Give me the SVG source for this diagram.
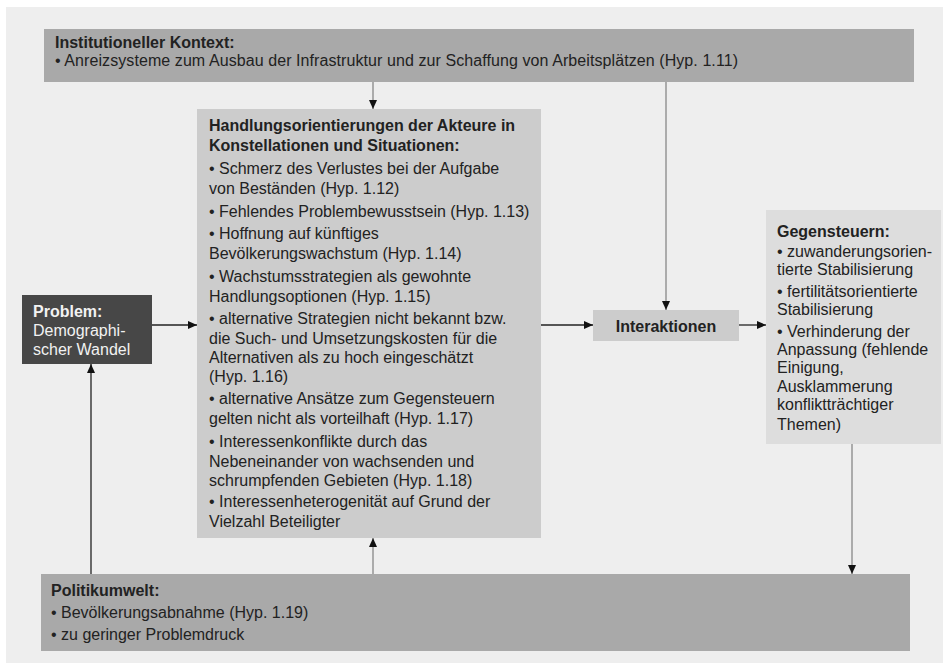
<svg xmlns="http://www.w3.org/2000/svg" width="943" height="665" viewBox="0 0 943 665">
<style>
text{font-family:"Liberation Sans",Arial,sans-serif;font-size:16px;fill:#222}
.b{font-weight:bold}
.w{fill:#f2f2f2}
.ln{stroke:#222;stroke-width:1.3;fill:none}
.lg{stroke:#9a9a9a;stroke-width:1.6;fill:none}
</style>
<defs>
<marker id="ah" markerUnits="userSpaceOnUse" markerWidth="10" markerHeight="10" viewBox="0 0 10 10" refX="9" refY="5" orient="auto">
<path d="M0,1 L9,5 L0,9 Z" fill="#111"/>
</marker>
</defs>
<rect x="0" y="0" width="943" height="665" fill="#ffffff"/>
<rect x="6" y="7" width="937" height="656" fill="#eeeeee"/>

<g id="connectors">
<line class="lg" x1="373" y1="82" x2="373" y2="109" marker-end="url(#ah)"/>
<line class="lg" x1="666" y1="82" x2="666" y2="310" marker-end="url(#ah)"/>
<line class="ln" x1="152" y1="325" x2="197" y2="325" marker-end="url(#ah)"/>
<line class="ln" x1="541" y1="325" x2="593" y2="325" marker-end="url(#ah)"/>
<line class="ln" x1="739" y1="325" x2="766" y2="325" marker-end="url(#ah)"/>
<line class="lg" x1="852" y1="444" x2="852" y2="574" marker-end="url(#ah)"/>
<line class="lg" x1="373" y1="574" x2="373" y2="538" marker-end="url(#ah)"/>
<line class="ln" x1="91" y1="574" x2="91" y2="364" marker-end="url(#ah)"/>
</g>

<g id="institutioneller-kontext">
<rect x="44" y="29" width="870" height="53" fill="#a9a9a9"/>
<text x="55" y="48" class="b">Institutioneller Kontext:</text>
<text x="55" y="66" textLength="683" lengthAdjust="spacing">• Anreizsysteme zum Ausbau der Infrastruktur und zur Schaffung von Arbeitsplätzen (Hyp. 1.11)</text>
</g>

<g id="handlungsorientierungen">
<rect x="197" y="109" width="344" height="429" fill="#cccccc"/>
<text x="209" y="131" class="b">Handlungsorientierungen der Akteure in</text>
<text x="209" y="151" class="b">Konstellationen und Situationen:</text>
<text x="209" y="174">• Schmerz des Verlustes bei der Aufgabe</text>
<text x="209" y="194">von Beständen (Hyp. 1.12)</text>
<text x="209" y="217">• Fehlendes Problembewusstsein (Hyp. 1.13)</text>
<text x="209" y="239">• Hoffnung auf künftiges</text>
<text x="209" y="259">Bevölkerungswachstum (Hyp. 1.14)</text>
<text x="209" y="282">• Wachstumsstrategien als gewohnte</text>
<text x="209" y="302">Handlungsoptionen (Hyp. 1.15)</text>
<text x="209" y="324">• alternative Strategien nicht bekannt bzw.</text>
<text x="209" y="344">die Such- und Umsetzungskosten für die</text>
<text x="209" y="363">Alternativen als zu hoch eingeschätzt</text>
<text x="209" y="382">(Hyp. 1.16)</text>
<text x="209" y="404">• alternative Ansätze zum Gegensteuern</text>
<text x="209" y="424">gelten nicht als vorteilhaft (Hyp. 1.17)</text>
<text x="209" y="447">• Interessenkonflikte durch das</text>
<text x="209" y="467">Nebeneinander von wachsenden und</text>
<text x="209" y="486">schrumpfenden Gebieten (Hyp. 1.18)</text>
<text x="209" y="507">• Interessenheterogenität auf Grund der</text>
<text x="209" y="527">Vielzahl Beteiligter</text>
</g>

<g id="problem">
<rect x="22" y="295" width="130" height="69" fill="#474747"/>
<text x="33" y="317" class="b w">Problem:</text>
<text x="33" y="336" class="w">Demographi-</text>
<text x="33" y="355" class="w">scher Wandel</text>
</g>

<g id="interaktionen">
<rect x="593" y="310" width="146" height="31" fill="#cccccc"/>
<text x="666" y="332" class="b" text-anchor="middle">Interaktionen</text>
</g>

<g id="gegensteuern">
<rect x="766" y="210" width="175" height="234" fill="#dddddd"/>
<text x="777" y="237" class="b">Gegensteuern:</text>
<text x="777" y="257">• zuwanderungsorien-</text>
<text x="777" y="275">tierte Stabilisierung</text>
<text x="777" y="297">• fertilitätsorientierte</text>
<text x="777" y="315">Stabilisierung</text>
<text x="777" y="337">• Verhinderung der</text>
<text x="777" y="355">Anpassung (fehlende</text>
<text x="777" y="373">Einigung,</text>
<text x="777" y="392">Ausklammerung</text>
<text x="777" y="410">konfliktträchtiger</text>
<text x="777" y="430">Themen)</text>
</g>

<g id="politikumwelt">
<rect x="41" y="574" width="869" height="77" fill="#a9a9a9"/>
<text x="51" y="596" class="b">Politikumwelt:</text>
<text x="51" y="618">• Bevölkerungsabnahme (Hyp. 1.19)</text>
<text x="51" y="640">• zu geringer Problemdruck</text>
</g>
</svg>
